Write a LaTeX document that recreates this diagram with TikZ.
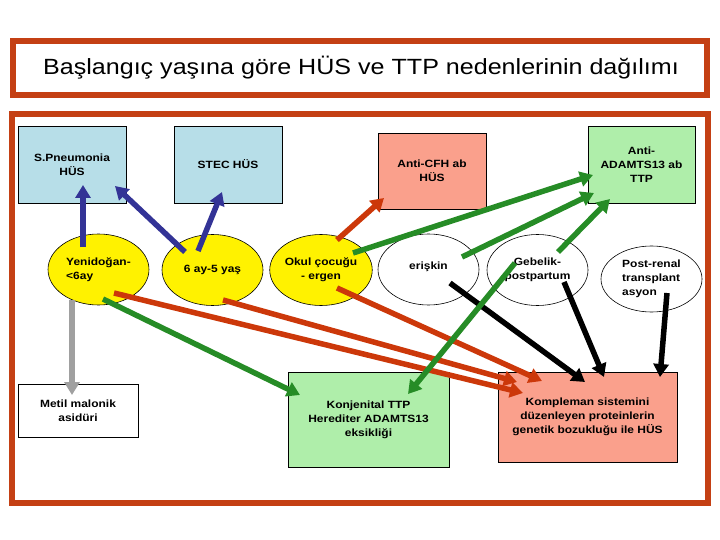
\documentclass[tikz,border=0pt]{standalone}
\usepackage{fontspec}
\setmainfont[FakeStretch=1.14]{Liberation Sans}
\usetikzlibrary{arrows.meta,calc,shapes.geometric}
\definecolor{frame}{RGB}{196,64,20}
\definecolor{arrblue}{RGB}{51,51,150}
\definecolor{arrgreen}{RGB}{38,140,38}
\definecolor{arrred}{RGB}{204,56,10}
\definecolor{arrgray}{RGB}{160,160,160}
\definecolor{boxblue}{RGB}{183,222,232}
\definecolor{boxsalmon}{RGB}{250,160,140}
\definecolor{boxgreen}{RGB}{175,238,170}
\begin{document}
\begin{tikzpicture}[x=1pt,y=-1pt,
  txt/.style={font=\bfseries\fontsize{10.5}{14}\selectfont, align=center, inner sep=0pt},
  rbox/.style={txt, draw=black, line width=0.8pt, rectangle},
  ell/.style={txt, draw=black, line width=0.6pt, ellipse},
  arr/.style={line width=5.5pt, -{Triangle[length=13pt,width=15pt]}},
  framebox/.style={draw=frame, line width=6pt}]
\useasboundingbox (0,0) rectangle (720,540);
% frames
\draw[framebox] (13,41.5) rectangle (707,95.5);
\draw[framebox] (12,114) rectangle (708,503);
\node[font=\fontsize{22}{26}\selectfont, inner sep=0pt] (title) at (361,68) {Başlangıç yaşına göre HÜS ve TTP nedenlerinin dağılımı};
% top boxes
\node[rbox, fill=boxblue, minimum width=108, minimum height=77] (pneu) at (72,164.5) {S.Pneumonia\\HÜS};
\node[rbox, fill=boxblue, minimum width=108, minimum height=77] (stec) at (228,164.5) {STEC HÜS};
\node[rbox, fill=boxsalmon, minimum width=108, minimum height=76] (cfh) at (432,171) {Anti-CFH ab\\HÜS};
\node[rbox, fill=boxgreen, minimum width=107, minimum height=77] (adam) at (641.5,164.5) {Anti-\\ADAMTS13 ab\\TTP};
% ellipses
\node[ell, fill=yellow, minimum width=101, minimum height=71] (yeni) at (98.5,269.5) {\begin{tabular}{@{}l@{}}Yenidoğan-\\<6ay\end{tabular}};
\node[ell, fill=yellow, minimum width=101, minimum height=71] (alti) at (212.5,270) {6 ay-5 yaş};
\node[ell, fill=yellow, minimum width=102, minimum height=71] (okul) at (321,270) {Okul çocuğu\\- ergen};
\node[ell, fill=white, minimum width=101, minimum height=71] (eris) at (428.5,269.5) {\raisebox{7pt}{erişkin}};
\node[ell, fill=white, minimum width=101, minimum height=71] (gebe) at (537.5,270) {Gebelik-\\postpartum};
\node[ell, fill=white, minimum width=101, minimum height=66] (post) at (651.5,279) {\begin{tabular}{@{}l@{}}Post-renal\\transplant\\asyon\end{tabular}};
% bottom boxes
\node[rbox, fill=white, minimum width=120, minimum height=53] (metil) at (78,410.5) {Metil malonik\\asidüri};
\node[rbox, fill=boxgreen, minimum width=161, minimum height=95] (konj) at (368.5,419.5) {Konjenital TTP\\Herediter ADAMTS13\\eksikliği};
\node[rbox, fill=boxsalmon, minimum width=179, minimum height=90] (komp) at (587.5,417) {\raisebox{8pt}{\begin{tabular}{@{}c@{}}Kompleman sistemini\\düzenleyen proteinlerin\\genetik bozukluğu ile HÜS\end{tabular}}};
% blue
\draw[arr, arrblue] ($(yeni.center)+(-15.5,-22.5)$) -- ($(pneu.center)+(11,20.5)$);
\draw[arr, arrblue] ($(alti.center)+(-27.5,-18)$) -- ($(pneu.center)+(43,21.5)$);
\draw[arr, arrblue] ($(alti.center)+(-14.5,-19)$) -- ($(stec.center)+(-6,27.5)$);
% gray
\draw[arr, arrgray] ($(yeni.center)+(-26.5,30.5)$) -- ($(metil.center)+(-6,-15.5)$);
% red
\draw[arr, arrred] ($(okul.center)+(16,-30)$) -- ($(cfh.center)+(-48,27)$);
\draw[arr, arrred] ($(yeni.center)+(15.5,23.5)$) -- ($(komp.center)+(-64.5,-24)$);
\draw[arr, arrred] ($(alti.center)+(10.5,30)$) -- ($(komp.center)+(-70.5,-35)$);
\draw[arr, arrred] ($(okul.center)+(16,18)$) -- ($(komp.center)+(-45.5,-36)$);
% black
\draw[arr, black] ($(eris.center)+(21.5,13.5)$) -- ($(komp.center)+(-2.5,-35)$);
\draw[arr, black] ($(gebe.center)+(26.5,12)$) -- ($(komp.center)+(16.5,-40)$);
\draw[arr, black] ($(post.center)+(15.5,14)$) -- ($(komp.center)+(72.5,-40)$);
% green
\draw[arr, arrgreen] ($(yeni.center)+(4.5,29.5)$) -- ($(konj.center)+(-68.5,-24.5)$);
\draw[arr, arrgreen] ($(okul.center)+(32,-17)$) -- ($(adam.center)+(-48.5,10.5)$);
\draw[arr, arrgreen] ($(eris.center)+(33.5,-12.5)$) -- ($(adam.center)+(-47.5,28.5)$);
\draw[arr, arrgreen] ($(gebe.center)+(20.5,-18)$) -- ($(adam.center)+(-31.5,34.5)$);
\draw[arr, arrgreen] ($(gebe.center)+(-22.5,-7)$) -- ($(konj.center)+(39.5,-25.5)$);
\end{tikzpicture}
\end{document}
